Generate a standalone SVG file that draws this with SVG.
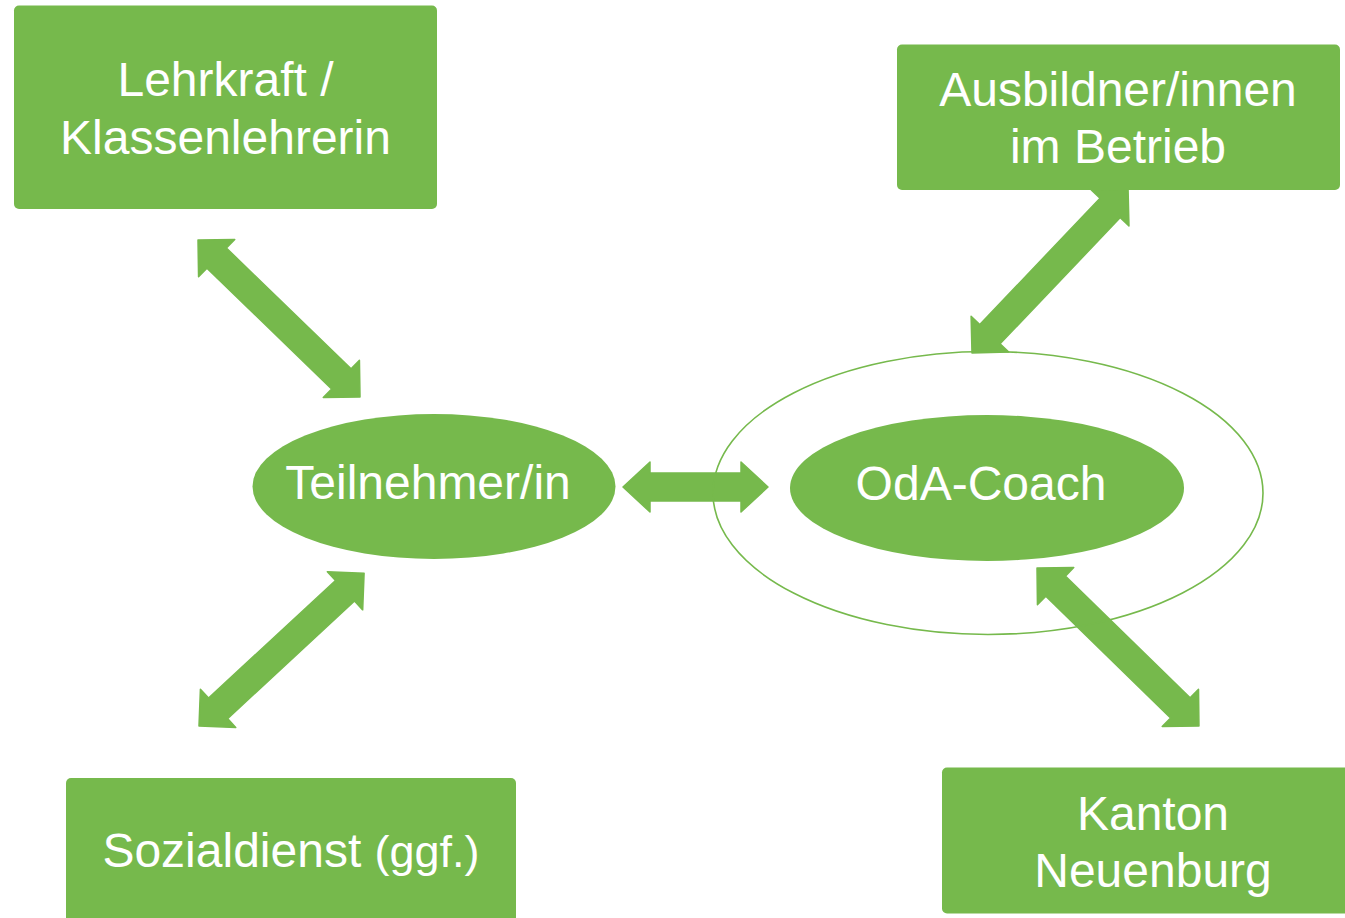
<svg xmlns="http://www.w3.org/2000/svg" width="1345" height="918" viewBox="0 0 1345 918">
<style>
.box{fill:#76b94c;}
.lbl{font-family:"Liberation Sans",Arial,sans-serif;font-size:48px;fill:#ffffff;text-anchor:middle;}
.arr{fill:#76b94c;stroke:#76b94c;stroke-width:1.5;stroke-linejoin:round;}
</style>
<rect width="1345" height="918" fill="#ffffff"/>
<g id="connectors">
<g transform="translate(198,240) rotate(44.1)"><polygon class="arr" points="0,0 26,-26 26,-14 199.6,-14 199.6,-26 225.6,0 199.6,26 199.6,14 26,14 26,26"/></g>
<g transform="translate(199,726) rotate(-42.8)"><polygon class="arr" points="0,0 26,-26 26,-14 199,-14 199,-26 225,0 199,26 199,14 26,14 26,26"/></g>
<g transform="translate(972,353) rotate(-46.4)"><polygon class="arr" points="0,0 26,-26 26,-14 200.3,-14 200.3,-26 226.3,0 200.3,26 200.3,14 26,14 26,26"/></g>
<g transform="translate(1037,568) rotate(44.3)"><polygon class="arr" points="0,0 26,-26 26,-14 200.3,-14 200.3,-26 226.3,0 200.3,26 200.3,14 26,14 26,26"/></g>
<g transform="translate(623,487)"><polygon class="arr" points="0,0 27,-25 27,-14 118,-14 118,-25 145,0 118,25 118,14 27,14 27,25"/></g>
</g>
<g id="node-oda-ring">
<ellipse cx="988" cy="493" rx="275" ry="141.5" fill="none" stroke="#76b94c" stroke-width="1.6"/>
</g>
<g id="node-lehrkraft">
<rect class="box" x="14" y="5.5" width="423" height="203.5" rx="5"/>
<text class="lbl" x="225.5" y="96">Lehrkraft /</text>
<text class="lbl" x="225.5" y="154">Klassenlehrerin</text>
</g>
<g id="node-ausbildner">
<rect class="box" x="897" y="44.5" width="443" height="145.5" rx="5"/>
<text class="lbl" x="1118" y="106">Ausbildner/innen</text>
<text class="lbl" x="1118" y="163">im Betrieb</text>
</g>
<g id="node-teilnehmer">
<ellipse class="box" cx="434" cy="486.5" rx="181.5" ry="72.5"/>
<text class="lbl" x="428" y="499">Teilnehmer/in</text>
</g>
<g id="node-oda">
<ellipse class="box" cx="987" cy="488" rx="197" ry="73"/>
<text class="lbl" x="981" y="500">OdA-Coach</text>
</g>
<g id="node-sozialdienst">
<rect class="box" x="66" y="778" width="450" height="200" rx="5"/>
<text class="lbl" x="291" y="867">Sozialdienst <tspan font-size="45">(ggf.)</tspan></text>
</g>
<g id="node-kanton">
<rect class="box" x="942" y="767.5" width="425" height="146" rx="5"/>
<text class="lbl" x="1153" y="830">Kanton</text>
<text class="lbl" x="1153" y="887">Neuenburg</text>
</g>
</svg>
